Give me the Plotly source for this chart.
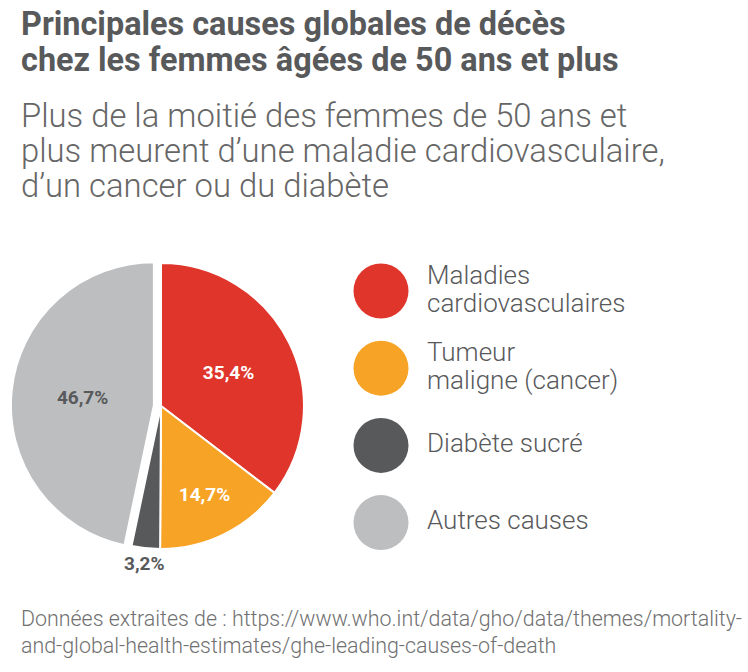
import math
import plotly.graph_objects as go

# ---- data ----
categories = ["Maladies cardiovasculaires", "Tumeur maligne (cancer)", "Diabète sucré", "Autres causes"]
legend_lines = [["Maladies", "cardiovasculaires"], ["Tumeur", "maligne (cancer)"], ["Diabète sucré"], ["Autres causes"]]
values = [35.4, 14.7, 3.2, 46.7]

colors = ["#E0352B", "#F7A325", "#58595B", "#BDBEC0"]
label_colors = ["#FFFFFF", "#FFFFFF", "#58595B", "#58595B"]
text_pos = ["inside", "inside", "none", "inside"]
pulls = [0, 0, 0, 0.05]

W, H = 748, 672
TXT = "#58595B"


def fmt(v):
    return f"{v:.1f}".replace(".", ",") + "%"


fig = go.Figure()

# pie geometry (pixels)
r = 142
half = r * 1.05 + 1
cx, cy = 161, 406
fig.add_trace(go.Pie(
    labels=categories, values=values, sort=False, direction="clockwise", rotation=0,
    marker=dict(colors=colors, line=dict(color="white", width=2)),
    pull=pulls,
    texttemplate="%{value:.1f}%",
    textposition=text_pos,
    insidetextorientation="horizontal",
    textfont=dict(family="Roboto", size=19, color=label_colors, weight=700),
    domain=dict(x=[(cx - half) / W, (cx + half) / W], y=[(H - cy - half) / H, (H - cy + half) / H]),
    showlegend=False, hoverinfo="label+value",
))

# custom legend in pixel-coordinate axes
leg_x = 381
leg_y0, leg_dy = 291, 77.2
mx, my, tx, ty, tt = [], [], [], [], []
for i, lines in enumerate(legend_lines):
    yc = leg_y0 + leg_dy * i
    mx.append(leg_x); my.append(yc)
    n = len(lines)
    for j, ln in enumerate(lines):
        tx.append(427)
        ty.append(yc + (j - (n - 1) / 2) * 28)
        tt.append(ln)

fig.add_trace(go.Scatter(x=mx, y=my, mode="markers",
                         marker=dict(size=55, color=colors, line=dict(width=0)),
                         showlegend=False, hoverinfo="skip"))
fig.add_trace(go.Scatter(x=tx, y=ty, mode="text", text=tt, textposition="middle right",
                         textfont=dict(family="Roboto", size=26, color=TXT, weight=300),
                         showlegend=False, hoverinfo="skip"))

fig.update_xaxes(range=[0, W], visible=False, fixedrange=True)
fig.update_yaxes(range=[H, 0], visible=False, fixedrange=True)

ann = []
# outside label of the small slice, placed below its mid-angle
start = sum(values[:2]) / sum(values)
mid = (start + values[2] / 2 / sum(values)) * 2 * math.pi
rl = r + 16
ann.append(dict(text=fmt(values[2]), x=cx + rl * math.sin(mid), y=cy - rl * math.cos(mid),
                xref="x", yref="y", showarrow=False, xanchor="center", yanchor="middle",
                font=dict(family="Roboto", size=19, color=TXT, weight=700)))

title_lines = ["Principales causes globales de décès", "chez les femmes âgées de 50 ans et plus"]
for i, t in enumerate(title_lines):
    ann.append(dict(text=t, x=19 / W, y=1 - (35 + 36 * i) / H, xref="paper", yref="paper",
                    xanchor="left", yanchor="bottom", showarrow=False, yshift=-10,
                    font=dict(family="Roboto", size=32.4, color=TXT, weight=700)))
sub_lines = ["Plus de la moitié des femmes de 50 ans et",
             "plus meurent d’une maladie cardiovasculaire,",
             "d’un cancer ou du diabète"]
for i, t in enumerate(sub_lines):
    ann.append(dict(text=t, x=19 / W, y=1 - (127 + 35 * i) / H, xref="paper", yref="paper",
                    xanchor="left", yanchor="bottom", showarrow=False, yshift=-10,
                    font=dict(family="Roboto", size=32.8, color="#666666", weight=300)))
src_lines = ["Données extraites de : https://www.who.int/data/gho/data/themes/mortality-",
             "and-global-health-estimates/ghe-leading-causes-of-death"]
for i, t in enumerate(src_lines):
    ann.append(dict(text=t, x=19 / W, y=1 - (626 + 27 * i) / H, xref="paper", yref="paper",
                    xanchor="left", yanchor="bottom", showarrow=False, yshift=-7,
                    font=dict(family="Roboto", size=21.4, color="#707070", weight=300)))

fig.update_layout(
    width=W, height=H, margin=dict(l=0, r=0, t=0, b=0), autosize=False,
    paper_bgcolor="white", plot_bgcolor="white",
    separators=", ", annotations=ann, showlegend=False,
)

fig.write_html("out.html", config={"displayModeBar": False},
               post_script="document.body.style.margin='0';document.body.style.overflow='hidden';")
